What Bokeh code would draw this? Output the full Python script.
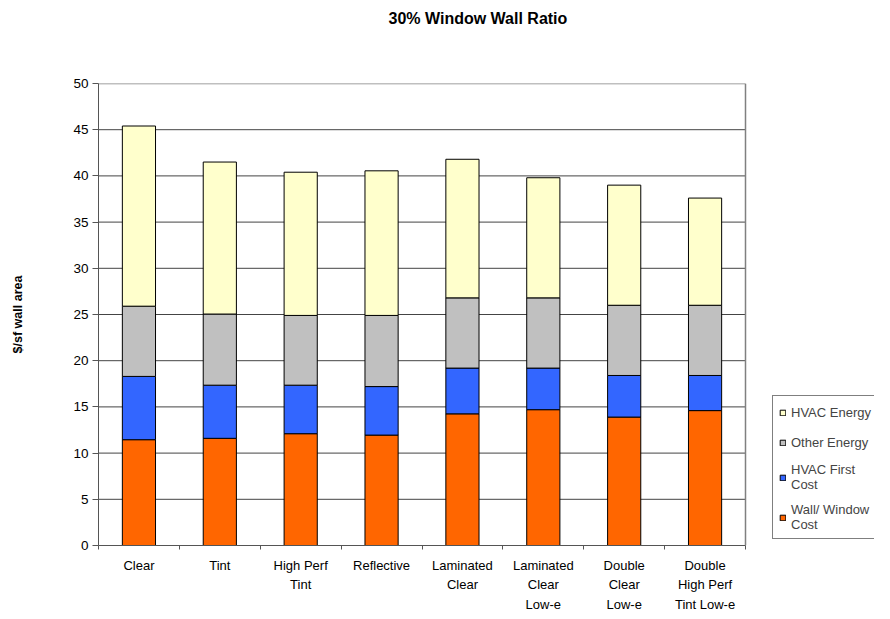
from bokeh.plotting import figure
from bokeh.models import ColumnDataSource, Range1d, FixedTicker, Legend, LegendItem, Title
from bokeh.embed import file_html
from bokeh.resources import INLINE

categories = ["Clear", "Tint", "High Perf\nTint", "Reflective", "Laminated\nClear",
              "Laminated\nClear\nLow-e", "Double\nClear\nLow-e", "Double\nHigh Perf\nTint Low-e"]
wall_window_cost = [11.45, 11.6, 12.1, 11.95, 14.25, 14.7, 13.9, 14.6]
hvac_first_cost = [6.85, 5.75, 5.25, 5.25, 4.95, 4.5, 4.5, 3.8]
other_energy = [7.6, 7.7, 7.55, 7.7, 7.6, 7.6, 7.6, 7.6]
hvac_energy = [19.5, 16.45, 15.5, 15.65, 15.0, 13.0, 13.0, 11.6]
series_labels = ["Wall/ Window\nCost", "HVAC First\nCost", "Other Energy", "HVAC Energy"]
series_colors = ["#FF6600", "#3366FF", "#C0C0C0", "#FFFFCC"]
y_ticks = [0, 5, 10, 15, 20, 25, 30, 35, 40, 45, 50]

FONT = "Liberation Sans"
n = len(categories)
centers = [i + 0.5 for i in range(n)]
keys = ["wall", "hvac_first", "other", "hvac_energy"]
source = ColumnDataSource(dict(x=centers, wall=wall_window_cost, hvac_first=hvac_first_cost,
                               other=other_energy, hvac_energy=hvac_energy))

# plot area is 647 px wide; the frame is extended to the right so the legend can sit there
PLOT_W = 647
FRAME_W = 776
p = figure(frame_width=FRAME_W, frame_height=462,
           x_range=Range1d(0, n * FRAME_W / PLOT_W), y_range=Range1d(0, y_ticks[-1]),
           output_backend="svg", toolbar_location=None, title=None,
           min_border_left=98, min_border_right=0, min_border_top=83, min_border_bottom=58)
p.outline_line_color = None
p.xgrid.grid_line_color = None
p.ygrid.grid_line_color = None

# horizontal gridlines across the category area only
inner = y_ticks[1:-1]
p.segment(x0=[0] * len(inner), x1=[n] * len(inner), y0=inner, y1=inner,
          line_color="#444444", line_width=1)

renderers = p.vbar_stack(keys, x="x", width=0.41, source=source, color=series_colors,
                         line_color="black", line_width=1)

# plot-area border (top and right in grey)
p.segment(x0=[0, n], x1=[n, n], y0=[y_ticks[-1], 0], y1=[y_ticks[-1], y_ticks[-1]],
          line_color="#808080", line_width=1.5)

# title: a blank spacer next to the frame, the real title above it
p.add_layout(Title(text=" ", text_font_size="13px", standoff=40), "above")
p.add_layout(Title(text="30% Window Wall Ratio", text_font=FONT, text_font_style="bold",
                   text_font_size="16px", text_color="black", align="left",
                   offset=290, standoff=0), "above")

# x axis: labels at category centres, minor ticks at category boundaries
xa = p.xaxis[0]
xa.bounds = (0, n)
xa.ticker = FixedTicker(ticks=centers, minor_ticks=list(range(n + 1)))
xa.major_label_overrides = {c: lab for c, lab in zip(centers, categories)}
xa.major_tick_out = 0
xa.major_tick_in = 0
xa.minor_tick_out = 4
xa.minor_tick_in = 0
xa.minor_tick_line_color = "#555555"
xa.axis_line_color = "#555555"
xa.major_label_text_font = FONT
xa.major_label_text_font_size = "13px"
xa.major_label_text_color = "black"
xa.major_label_text_line_height = 1.3
xa.major_label_standoff = 8

ya = p.yaxis[0]
ya.ticker = FixedTicker(ticks=y_ticks, minor_ticks=[])
ya.major_tick_out = 6
ya.major_tick_in = 0
ya.major_tick_line_color = "#555555"
ya.axis_line_color = "#555555"
ya.major_label_text_font = FONT
ya.major_label_text_font_size = "13.5px"
ya.major_label_text_color = "black"
ya.major_label_standoff = 4
ya.axis_label = "$/sf wall area"
ya.axis_label_text_font = FONT
ya.axis_label_text_font_style = "bold"
ya.axis_label_text_font_size = "12.5px"
ya.axis_label_text_color = "black"
ya.axis_label_standoff = 45

items = [LegendItem(label=lab, renderers=[r]) for lab, r in zip(series_labels, renderers)]
items.reverse()
legend = Legend(items=items, location=(PLOT_W + 27, 6), orientation="vertical",
                border_line_color="black", border_line_width=1,
                background_fill_color="white", background_fill_alpha=1,
                label_text_font=FONT, label_text_font_size="13px",
                label_text_line_height=1.3,
                glyph_width=7, glyph_height=7, label_standoff=5,
                padding=6, spacing=10, margin=0, label_height=20)
p.add_layout(legend, "center")

open("out.html", "w").write(file_html(p, INLINE))
